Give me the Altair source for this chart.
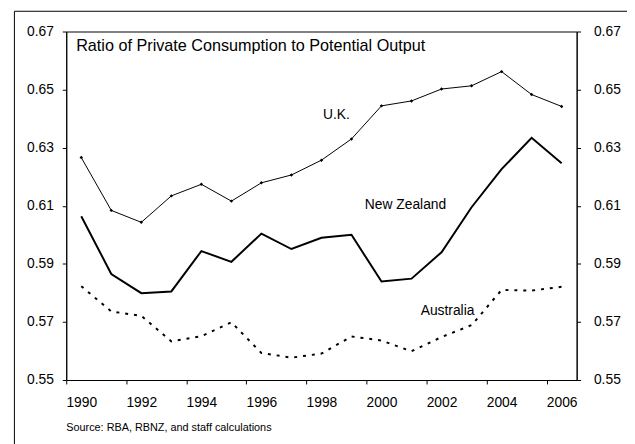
import altair as alt
import pandas as pd

years = list(range(1990, 2007))
uk = [0.6266, 0.6084, 0.6043, 0.6134, 0.6174, 0.6116, 0.6179, 0.6206, 0.6257,
      0.6330, 0.6444, 0.6461, 0.6502, 0.6513, 0.6562, 0.6483, 0.6442]
nz = [0.6064, 0.5865, 0.5799, 0.5805, 0.5944, 0.5907, 0.6004, 0.5951, 0.5990,
      0.6000, 0.5839, 0.5849, 0.5940, 0.6095, 0.6226, 0.6334, 0.6246]
aus = [0.5823, 0.5736, 0.5721, 0.5633, 0.5651, 0.5699, 0.5593, 0.5577, 0.5591,
       0.5650, 0.5636, 0.5599, 0.5648, 0.5689, 0.5810, 0.5808, 0.5821]

y_ticks = [0.55, 0.57, 0.59, 0.61, 0.63, 0.65, 0.67]
x_tick_bounds = [1989.5 + 2 * i for i in range(9)]

title_text = "Ratio of Private Consumption to Potential Output"
source_text = "Source: RBA, RBNZ, and staff calculations"
labels = pd.DataFrame({
    "year": [1998.5, 2000.8, 2002.2],
    "value": [0.6413, 0.6101, 0.5739],
    "text": ["U.K.", "New Zealand", "Australia"],
})

W, H = 517, 353
FONT = "Liberation Sans"

df_uk = pd.DataFrame({"year": years, "value": uk})
df_nz = pd.DataFrame({"year": years, "value": nz})
df_aus = pd.DataFrame({"year": years, "value": aus})

xscale = alt.Scale(domain=[1989.5, 2006.5], nice=False, zero=False)
yscale = alt.Scale(domain=[0.55, 0.67], nice=False, zero=False)

xaxis = alt.Axis(values=x_tick_bounds, labelExpr="datum.value + 0.5",
                 labelOffset=15.2, labelFlush=False, grid=False, tickSize=4,
                 labelPadding=12, title=None, domainColor="black",
                 tickColor="black", labelFont=FONT, labelFontSize=14,
                 labelColor="black")

def yaxis(orient, pad):
    return alt.Axis(values=y_ticks, format=".2f", orient=orient, grid=False,
                    tickSize=4, labelPadding=pad, title=None, domainColor="black",
                    tickColor="black", labelFont=FONT, labelFontSize=14,
                    labelColor="black")

X = alt.X("year:Q", scale=xscale, axis=xaxis)

uk_line = alt.Chart(df_uk).mark_line(color="black", strokeWidth=1).encode(
    x=X, y=alt.Y("value:Q", scale=yscale, axis=yaxis("left", 9)))
uk_pts = alt.Chart(df_uk).mark_point(shape="diamond", filled=True, size=12,
                                     color="black", opacity=1).encode(
    x=X, y=alt.Y("value:Q", scale=yscale))
nz_line = alt.Chart(df_nz).mark_line(color="black", strokeWidth=2).encode(
    x=X, y=alt.Y("value:Q", scale=yscale))
aus_line = alt.Chart(df_aus).mark_line(color="black", strokeWidth=2,
                                       strokeDash=[3, 6]).encode(
    x=X, y=alt.Y("value:Q", scale=yscale))
lab = alt.Chart(labels).mark_text(font=FONT, fontSize=14, color="black").encode(
    x=X, y=alt.Y("value:Q", scale=yscale), text="text:N")
ttl = alt.Chart(pd.DataFrame({"year": [1989.83], "value": [0.6649],
                              "text": [title_text]})).mark_text(
    font=FONT, fontSize=16.4, color="black", align="left").encode(
    x=X, y=alt.Y("value:Q", scale=yscale), text="text:N")

one = pd.DataFrame({"a": [0]})
src = alt.Chart(one).mark_text(font=FONT, fontSize=11, color="black",
                               align="left", baseline="middle",
                               text=source_text).encode(
    x=alt.value(0), y=alt.value(402))
frame = alt.Chart(one).mark_rect(fillOpacity=0, stroke="black",
                                 strokeWidth=1).encode(
    x=alt.value(-52.5), x2=alt.value(620), y=alt.value(-20.5), y2=alt.value(460))

left = alt.layer(frame, uk_line, uk_pts, nz_line, aus_line, lab, ttl, src)
right = alt.Chart(df_nz).mark_line(opacity=0).encode(
    x=X, y=alt.Y("value:Q", scale=yscale, axis=yaxis("right", 13)))

chart = alt.layer(left, right).resolve_scale(y="independent").properties(
    width=W, height=H,
    autosize=alt.AutoSizeParams(type="none"),
    padding={"left": 59, "top": 21, "right": 51, "bottom": 62},
).configure_view(stroke="black", strokeWidth=1)

chart.save("out.html", embed_options={"renderer": "svg", "actions": False})
